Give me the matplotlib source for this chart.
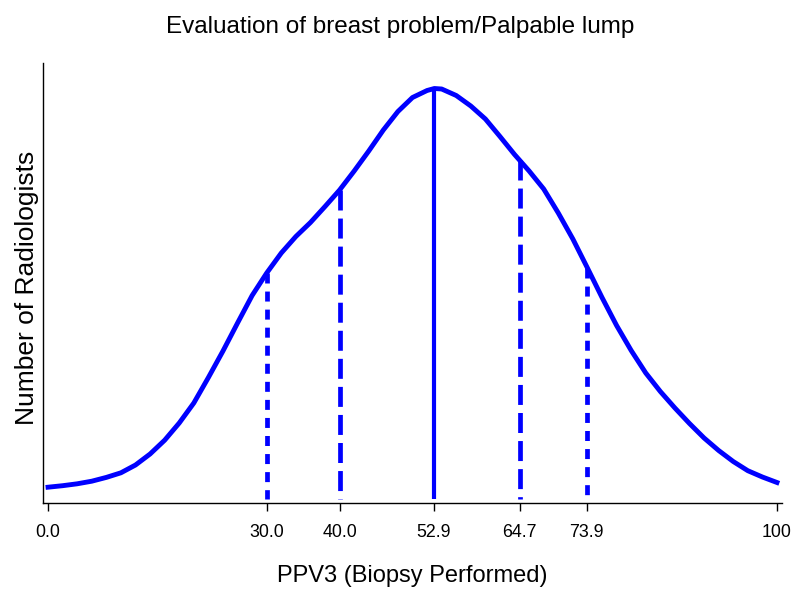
import matplotlib.pyplot as plt

plt.rcParams['font.family'] = ['Liberation Sans', 'DejaVu Sans']
plt.rcParams['lines.scale_dashes'] = False

# smoothed distribution of PPV3 across radiologists
ppv = [0, 2, 4, 6, 8, 10, 12, 14, 16, 18, 20, 22, 24, 26, 28, 30, 32, 34, 36,
       38, 40, 42, 44, 46, 48, 50, 52, 53, 54, 56, 58, 60, 62, 64, 66, 68, 70,
       72, 74, 76, 78, 80, 82, 84, 86, 88, 90, 92, 94, 96, 98, 100]
density = [15.8, 17.3, 19.2, 21.8, 25.6, 30.2, 38, 49, 62.8, 80, 100, 125.5,
           152, 180, 207.5, 230, 250, 266.5, 280.5, 296.5, 313, 332, 352, 373,
           391.5, 405.5, 412.5, 414.5, 414, 407.5, 397, 384, 366.5, 348.5, 332,
           314, 290, 264, 235, 205.5, 177.5, 152.5, 130, 111.5, 95, 79.5, 65,
           52.5, 41.5, 32.3, 26, 20.5]

# percentile markers: 10th, 25th, median, 75th, 90th
pct_x = [30.0, 40.0, 52.9, 64.7, 73.9]
pct_h = [230, 313, 414.5, 343, 235]
pct_labels = ['30.0', '40.0', '52.9', '64.7', '73.9']

short_dash = (0, (7.2, 5.8))
long_dash = (0, (14.4, 5.8))
styles = [short_dash, long_dash, '-', long_dash, short_dash]
widths = [3.4, 3.4, 3.0, 3.4, 3.4]

fig = plt.figure(figsize=(8, 6), dpi=100)
ax = fig.add_axes([43 / 800, 97 / 600, 739 / 800, 440 / 600])

ax.plot(ppv, density, color='#0000ff', lw=3.5, solid_joinstyle='round')
for x, h, ls, w in zip(pct_x, pct_h, styles, widths):
    ax.plot([x, x], [h, 4], color='#0000ff', lw=w, ls=ls,
            solid_capstyle='butt', dash_capstyle='butt')

ax.set_xlim(-0.69, 100.69)
ax.set_ylim(0, 440)
ax.set_xticks([0] + pct_x + [100])
ax.set_xticklabels(['0.0'] + pct_labels + ['100'], fontsize=12.8)
ax.set_yticks([])
ax.tick_params(axis='x', direction='out', length=6, width=1, pad=9)

for s in ['top', 'right']:
    ax.spines[s].set_visible(False)
for s in ['left', 'bottom']:
    ax.spines[s].set_linewidth(1)

ax.set_xlabel('PPV3 (Biopsy Performed)', fontsize=17)
ax.xaxis.set_label_coords(0.5, -0.14)
ax.set_ylabel('Number of Radiologists', fontsize=19)
ax.yaxis.set_label_coords(-0.005, 0.49)

fig.text(0.5, 1 - 27 / 600, 'Evaluation of breast problem/Palpable lump',
         ha='center', va='center', fontsize=17.5)

fig.savefig('out.png', dpi=100)
